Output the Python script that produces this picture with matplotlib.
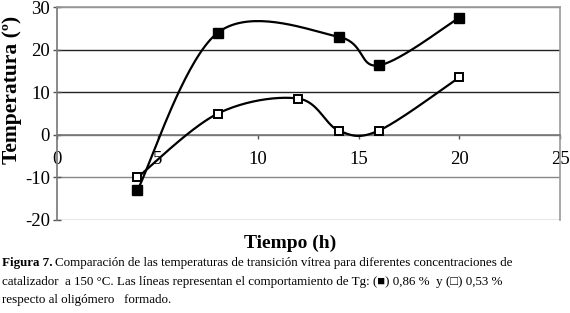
import numpy as np
import matplotlib
matplotlib.use("Agg")
import matplotlib.pyplot as plt

# Data
x_filled = [4, 8, 14, 16, 20]
y_filled = [-13, 24, 23, 16.3, 27.5]
x_open = [4, 8, 12, 14, 16, 20]
y_open = [-10, 5, 8.5, 1, 1, 13.5]
xticks = [0, 5, 10, 15, 20, 25]
yticks = [-20, -10, 0, 10, 20, 30]

caption_bold = "Figura 7."
caption1 = "Comparación de las temperaturas de transición vítrea para diferentes concentraciones de"
caption2 = "catalizador  a 150 °C. Las líneas representan el comportamiento de Tg: (■) 0,86 %  y (□) 0,53 %"
caption3 = "respecto al oligómero   formado."


def smooth(xs, ys, n=40):
    """Excel-like smoothed line: cubic Bezier with 1/6 neighbour tangents."""
    P = np.column_stack([xs, ys]).astype(float)
    m = len(P)
    out = []
    for i in range(m - 1):
        p0 = P[i]
        p3 = P[i + 1]
        pm = P[i - 1] if i > 0 else P[i]
        pp = P[i + 2] if i + 2 < m else P[i + 1]
        c1 = p0 + (p3 - pm) / 6.0
        c2 = p3 - (pp - p0) / 6.0
        t = np.linspace(0, 1, n)[:, None]
        seg = ((1 - t) ** 3) * p0 + 3 * ((1 - t) ** 2) * t * c1 + 3 * (1 - t) * t ** 2 * c2 + t ** 3 * p3
        out.append(seg if i == 0 else seg[1:])
    arr = np.vstack(out)
    return arr[:, 0], arr[:, 1]


plt.rcParams['font.family'] = ['Liberation Serif', 'DejaVu Sans']
plt.rcParams['axes.unicode_minus'] = False

fig = plt.figure(figsize=(5.7, 3.13), dpi=100)
ax = fig.add_axes([57 / 570, 1 - 220 / 313, 503 / 570, 213 / 313])

ax.set_xlim(0, 25)
ax.set_ylim(-20, 30)

for yv in yticks:
    ax.axhline(yv, color='#222222' if yv in (10, 20) else '#888888', lw=1.0, zorder=1)

sx, sy = smooth(x_filled, y_filled)
ax.plot(sx, sy, color='black', lw=1.6, zorder=3)
ax.plot(x_filled, y_filled, ls='none', marker='s', ms=7, mfc='black', mec='black', zorder=4)

sx2, sy2 = smooth(x_open, y_open)
ax.plot(sx2, sy2, color='black', lw=1.6, zorder=3)
ax.plot(x_open, y_open, ls='none', marker='s', ms=6, mfc='white', mec='black', mew=1.4, zorder=4)

for s in ['top', 'right']:
    ax.spines[s].set_color('#999999')
    ax.spines[s].set_linewidth(1.2)
ax.spines['left'].set_color('#777777')
ax.spines['left'].set_linewidth(1.2)
ax.spines['bottom'].set_position(('data', 0))
ax.spines['bottom'].set_color('#777777')
ax.spines['bottom'].set_linewidth(1.2)

ax.set_xticks(xticks)
ax.set_yticks(yticks)
ax.tick_params(axis='x', direction='out', length=3, width=1, color='#555555', pad=9, labelsize=13.5)
ax.tick_params(axis='y', direction='inout', length=6, width=1, color='#555555', pad=2, labelsize=13.5)

fig.text(12 / 570, 1 - 90 / 313, 'Temperatura (º)', rotation=90, ha='center', va='center',
         fontsize=15.5, fontweight='bold')
fig.text(290 / 570, 1 - 243 / 313, 'Tiempo (h)', ha='center', va='center', fontsize=14, fontweight='bold')

fs = 9.4
tb = fig.text(0.003, 1 - 263 / 313, caption_bold, ha='left', va='center', fontsize=fs, fontweight='bold')
fig.canvas.draw()
bb = tb.get_window_extent(renderer=fig.canvas.get_renderer())
fig.text((bb.x1 + 3) / 570, 1 - 263 / 313, caption1, ha='left', va='center', fontsize=fs)
fig.text(0.003, 1 - 282 / 313, caption2, ha='left', va='center', fontsize=fs)
fig.text(0.003, 1 - 300 / 313, caption3, ha='left', va='center', fontsize=fs)

fig.savefig('out.png', dpi=100)
